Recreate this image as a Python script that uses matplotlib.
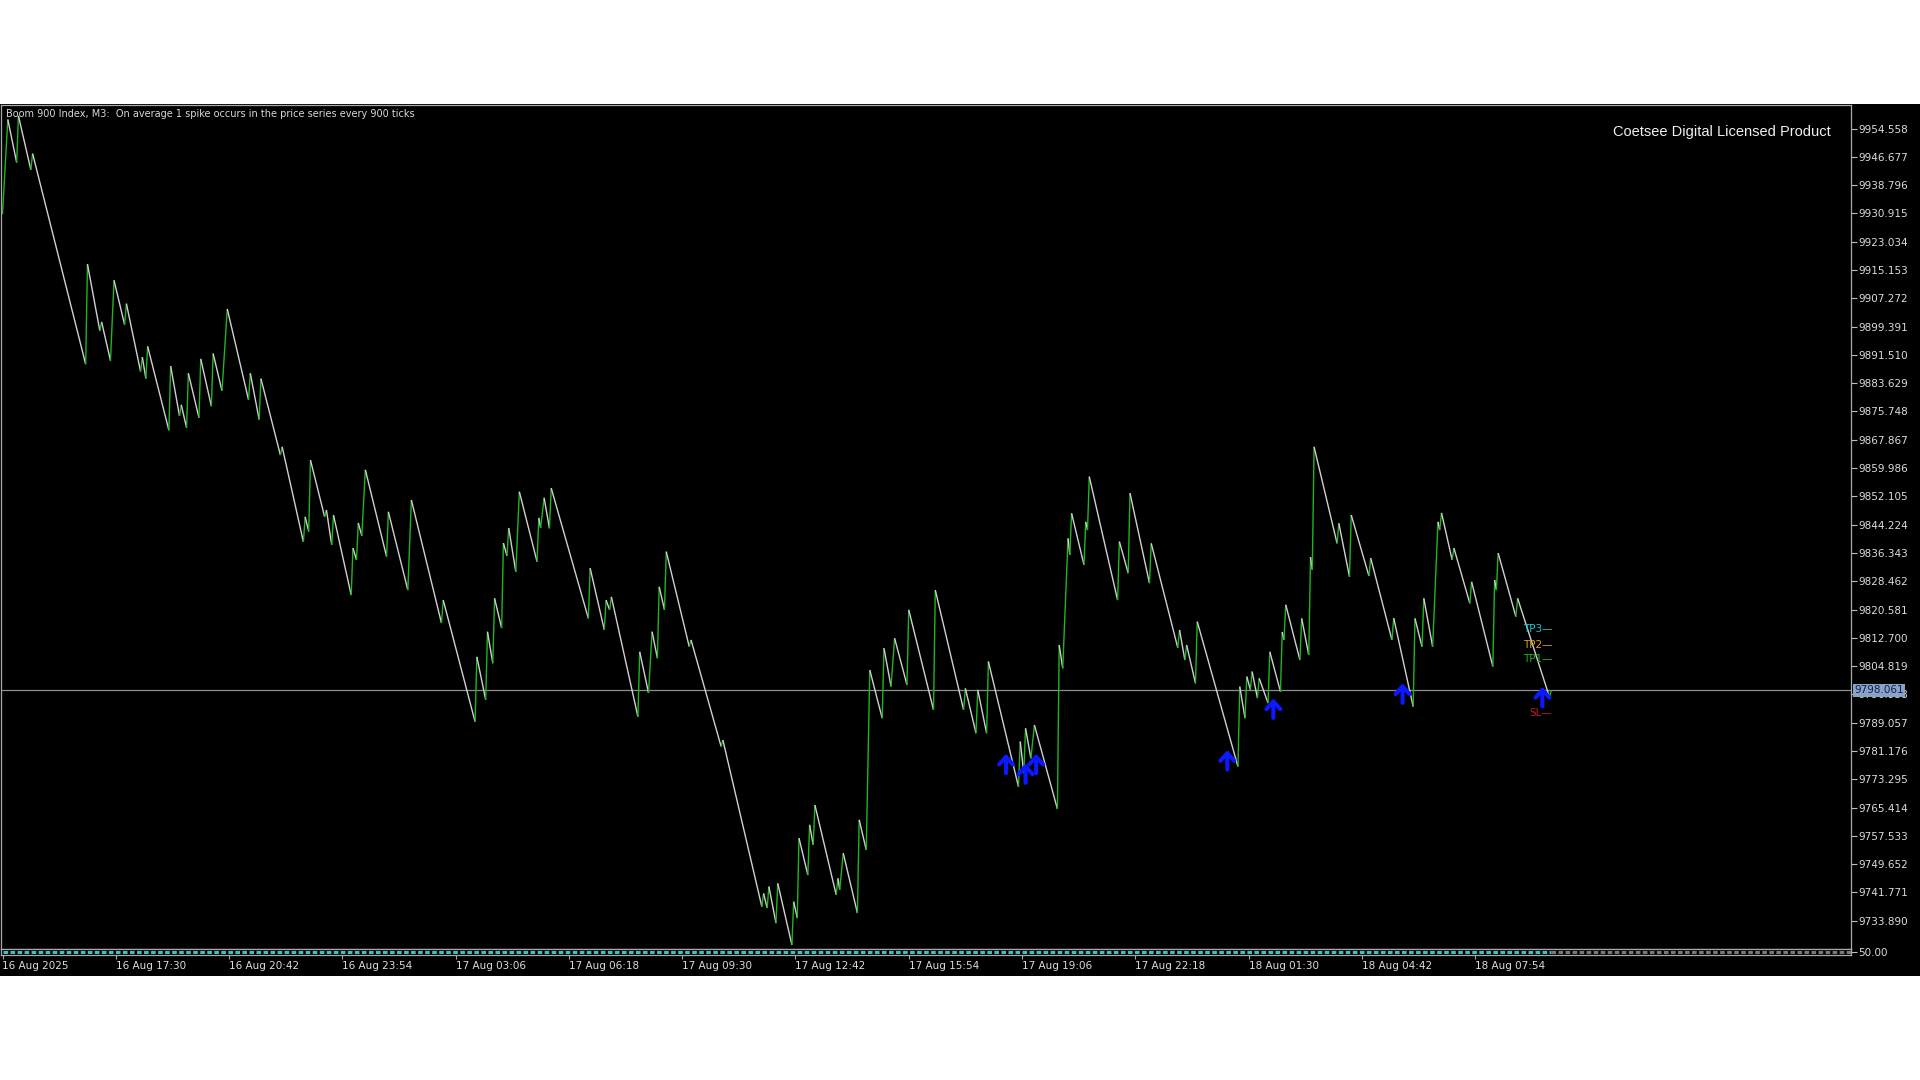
import matplotlib.pyplot as plt
from matplotlib.collections import LineCollection
from matplotlib.patches import Rectangle
import matplotlib.transforms as mtransforms

plt.rcParams['font.family'] = ['DejaVu Sans']

# swing points of the price series (bar index from first bar, price)
bars = [0, 3, 8, 9, 16, 17, 47, 48, 55, 56, 61, 63, 69, 70, 78, 79, 81, 82, 94, 95,
        100, 101, 104, 105, 111, 112, 118, 119, 124, 127, 139, 140, 145, 146, 157, 158,
        170, 171, 173, 174, 182, 183, 186, 187, 197, 198, 200, 201, 203, 205, 217, 218,
        229, 231, 248, 249, 267, 268, 273, 274, 277, 278, 282, 283, 285, 286, 290, 292,
        302, 303, 304, 306, 309, 310, 331, 332, 340, 341, 343, 344, 359, 360, 365, 367,
        370, 371, 374, 375, 388, 389, 406, 407, 429, 430, 432, 433, 437, 438, 446, 447,
        449, 450, 455, 456, 458, 459, 471, 472, 473, 475, 483, 484, 488, 490, 497, 498,
        502, 504, 511, 512, 526, 527, 543, 544, 550, 551, 556, 557, 574, 575, 577, 578,
        581, 583, 596, 597, 599, 602, 603, 604, 611, 612, 613, 614, 630, 631, 636, 637,
        648, 649, 664, 665, 668, 669, 674, 675, 698, 699, 702, 703, 705, 706, 709, 710,
        715, 716, 722, 723, 724, 725, 733, 734, 738, 739, 740, 741, 754, 755, 761, 762,
        772, 773, 785, 786, 797, 798, 802, 803, 808, 811, 812, 813, 819, 820, 829, 830,
        842, 843, 844, 845, 855, 856, 874, 875]
prices = [9930.7, 9957.1, 9945.1, 9958.1, 9943.1, 9947.6, 9888.9, 9916.8, 9898.2, 9900.7,
          9889.9, 9912.3, 9899.9, 9905.8, 9886.9, 9890.9, 9884.9, 9893.9, 9870.5, 9888.4,
          9874.5, 9877.6, 9871.2, 9886.4, 9874.0, 9890.4, 9877.2, 9891.9, 9881.5, 9904.3,
          9879.0, 9886.4, 9873.5, 9884.9, 9863.6, 9865.9, 9839.4, 9846.4, 9842.3, 9862.2,
          9846.4, 9848.3, 9838.6, 9846.9, 9824.6, 9837.7, 9834.4, 9844.7, 9841.1, 9859.5,
          9835.3, 9847.8, 9826.0, 9851.1, 9816.8, 9823.2, 9789.3, 9807.4, 9795.4, 9814.4,
          9805.6, 9823.7, 9815.4, 9839.1, 9835.5, 9843.3, 9831.1, 9853.4, 9833.9, 9846.1,
          9843.3, 9851.7, 9843.2, 9854.4, 9818.1, 9832.1, 9814.9, 9823.2, 9820.5, 9824.1,
          9790.7, 9808.8, 9797.3, 9814.4, 9807.0, 9826.9, 9820.5, 9836.7, 9810.2, 9812.1,
          9782.4, 9784.2, 9737.8, 9741.5, 9737.4, 9743.4, 9733.2, 9744.3, 9727.1, 9739.2,
          9734.6, 9756.9, 9746.6, 9760.6, 9755.0, 9766.1, 9741.1, 9745.7, 9742.5, 9752.7,
          9736.0, 9762.0, 9753.6, 9803.7, 9790.3, 9809.8, 9799.1, 9812.6, 9799.6, 9820.5,
          9792.6, 9826.0, 9792.6, 9798.6, 9786.1, 9798.2, 9786.1, 9806.1, 9771.2, 9783.8,
          9775.0, 9787.5, 9779.1, 9788.4, 9765.0, 9810.7, 9804.2, 9840.4, 9835.8, 9847.4,
          9833.0, 9845.0, 9842.7, 9857.6, 9823.2, 9839.5, 9830.7, 9853.0, 9827.9, 9839.0,
          9809.9, 9814.9, 9806.5, 9810.7, 9800.0, 9817.2, 9776.8, 9799.1, 9790.3, 9801.9,
          9798.2, 9803.3, 9795.9, 9801.4, 9794.5, 9808.8, 9797.7, 9814.3, 9812.1, 9821.9,
          9806.5, 9818.1, 9807.9, 9835.2, 9831.6, 9865.9, 9839.0, 9844.6, 9829.7, 9846.9,
          9829.9, 9834.9, 9812.1, 9818.2, 9793.5, 9818.1, 9810.2, 9823.7, 9810.2, 9845.0,
          9842.7, 9847.5, 9834.4, 9837.7, 9822.3, 9828.3, 9804.7, 9828.8, 9826.0, 9836.3,
          9818.6, 9823.7, 9796.2, 9798.061]

last_price = 9798.061

# buy arrows (bar, price at arrow middle)
signal_bars = [567, 578, 584, 692, 718, 791, 870]
signal_prices = [9777.7, 9775.0, 9777.7, 9778.7, 9793.1, 9797.3, 9796.3]

level_names = ['TP3', 'TP2', 'TP1', 'SL']
level_prices = [9815.2, 9810.7, 9806.8, 9791.8]
level_colors = ['#1cc4c8', '#d8a41c', '#22ad2a', '#c8182c']

time_labels = ['16 Aug 2025', '16 Aug 17:30', '16 Aug 20:42', '16 Aug 23:54',
               '17 Aug 03:06', '17 Aug 06:18', '17 Aug 09:30', '17 Aug 12:42',
               '17 Aug 15:54', '17 Aug 19:06', '17 Aug 22:18', '18 Aug 01:30',
               '18 Aug 04:42', '18 Aug 07:54']
time_label_bars = [i * 64 for i in range(len(time_labels))]

price_ticks = [9954.558 - i * 7.881 for i in range(29)]

W, H = 1920, 1080


def fx(px):
    return px / W


def fy(py):
    return 1 - py / H


fig = plt.figure(figsize=(19.2, 10.8), dpi=100, facecolor='white')
fig.patches.append(Rectangle((0, fy(976)), 1, fy(104) - fy(976), transform=fig.transFigure,
                             facecolor='black', edgecolor='none', zorder=-10))

xmin = (1 - 2.5) / 1.77
xmax = (1851 - 2.5) / 1.77

ax = fig.add_axes([fx(1), fy(949), fx(1851) - fx(1), fy(105) - fy(949)])
ax.set_facecolor('black')
ax.set_xlim(xmin, xmax)
ax.set_ylim(9726.0, 9961.13)

segs, cols = [], []
for i in range(len(bars) - 1):
    segs.append([(bars[i], prices[i]), (bars[i + 1], prices[i + 1])])
    cols.append('#20b420' if prices[i + 1] > prices[i] else '#d0d0d0')
ax.add_collection(LineCollection(segs, colors=cols, linewidths=1.0))

ax.axhline(last_price, color='#8e8e8e', lw=0.9, zorder=1)

for b, p in zip(signal_bars, signal_prices):
    tr = mtransforms.offset_copy(ax.transData, fig=fig, y=7, units='points')
    ax.annotate('', xy=(b, p), xycoords=tr, xytext=(0, -14), textcoords='offset points',
                arrowprops=dict(arrowstyle='->,head_length=0.55,head_width=0.5',
                                color='#0c18ff', lw=3.0, shrinkA=0, shrinkB=0),
                annotation_clip=False, zorder=5)

for name, p, c in zip(level_names, level_prices, level_colors):
    ax.text(875.5, p, name + '\u2014', ha='right', va='center', color=c, fontsize=7.5, zorder=6)

ax.yaxis.tick_right()
ax.set_yticks(price_ticks)
ax.set_yticklabels(['%.3f' % v for v in price_ticks])
ax.tick_params(axis='y', colors='#bdbdbd', length=4, width=0.8, labelsize=7.5,
               labelcolor='#dcdcdc', pad=1)
ax.set_xticks([])
for s in ax.spines.values():
    s.set_color('#a8a8a8')
    s.set_linewidth(0.9)

tr_y = mtransforms.blended_transform_factory(ax.transAxes, ax.transData)
ax.text(1.0017, last_price, '%.3f' % last_price, transform=tr_y, ha='left', va='center',
        fontsize=7.5, color='#0e1e5a', zorder=10,
        bbox=dict(boxstyle='square,pad=0.15', facecolor='#8aa3c2', edgecolor='none'))

fig.text(fx(6), fy(114), 'Boom 900 Index, M3:  On average 1 spike occurs in the price series every 900 ticks',
         ha='left', va='center', color='#d8d8d8', fontsize=7.0)
fig.text(fx(1831), fy(132), 'Coetsee Digital Licensed Product', ha='right', va='center',
         color='#f0f0f0', fontsize=10.5, family='Liberation Sans')

# thin indicator strip with the time axis under it
ax2 = fig.add_axes([fx(1), fy(955), fx(1851) - fx(1), fy(949) - fy(955)])
ax2.set_facecolor('black')
ax2.set_xlim(xmin, xmax)
ax2.set_ylim(0, 100)
ax2.plot([0, 875], [50, 50], color='#3fc0c0', lw=2.2, ls=(0, (1.5, 0.8)))
ax2.plot([875, xmax], [50, 50], color='#707a80', lw=2.2, ls=(0, (1.5, 0.8)))
ax2.set_yticks([50])
ax2.yaxis.tick_right()
ax2.set_yticklabels(['50.00'])
ax2.set_xticks(time_label_bars)
ax2.set_xticklabels(time_labels, ha='left')
ax2.tick_params(axis='x', colors='#a8a8a8', length=3, width=0.8, labelsize=7.5,
                labelcolor='#dcdcdc', pad=1)
ax2.tick_params(axis='y', colors='#bdbdbd', length=4, width=0.8, labelsize=7.5,
                labelcolor='#dcdcdc', pad=1)
for s in ax2.spines.values():
    s.set_color('#a8a8a8')
    s.set_linewidth(0.9)

fig.savefig('out.png', dpi=100, facecolor='white')
